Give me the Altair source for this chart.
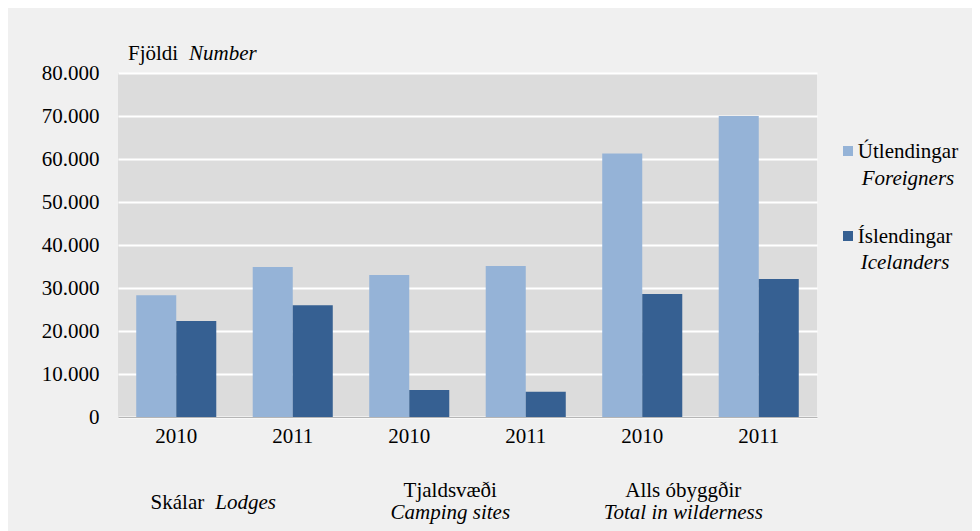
import altair as alt
import pandas as pd

# ---- data ----
groups = ["Skálar", "Skálar", "Tjaldsvæði", "Tjaldsvæði", "Alls óbyggðir", "Alls óbyggðir"]
years = ["2010", "2011", "2010", "2011", "2010", "2011"]
foreigners = [28300, 34900, 33000, 35100, 61300, 70000]
icelanders = [22300, 26000, 6300, 5900, 28600, 32100]
series = ["Útlendingar", "Íslendingar"]
series_en = ["Foreigners", "Icelanders"]
colors = ["#95b3d7", "#366092"]
y_ticks = [0, 10000, 20000, 30000, 40000, 50000, 60000, 70000, 80000]
group_is = ["Skálar", "Tjaldsvæði", "Alls óbyggðir"]
group_en = ["Lodges", "Camping sites", "Total in wilderness"]
title_is = "Fjöldi"
title_en = "Number"

cats = [f"{g} {y}" for g, y in zip(groups, years)]
rows = []
for c, f, i in zip(cats, foreigners, icelanders):
    rows.append({"cat": c, "series": series[0], "value": f})
    rows.append({"cat": c, "series": series[1], "value": i})
df = pd.DataFrame(rows)

first_cats = [cats[0], cats[2], cats[4]]
gdf = pd.DataFrame({"cat": first_cats, "is": group_is, "en": group_en})

FONT = "Liberation Serif, Times New Roman, serif"
FS = 21
W, H = 699, 344

xscale = alt.Scale(domain=cats, paddingInner=0.313, paddingOuter=0.1565)
color = alt.Color("series:N", scale=alt.Scale(domain=series, range=colors), legend=None)

bars = alt.Chart(df).mark_bar().encode(
    x=alt.X("cat:N", scale=xscale, sort=cats, title=None,
            axis=alt.Axis(labelExpr="slice(datum.value, -4)", labelAngle=0, labelFont=FONT,
                          labelFontSize=FS, labelColor="#000000", ticks=False, tickSize=0,
                          labelPadding=8, domainColor="#b5b5b5", domainWidth=1, zindex=1)),
    xOffset=alt.XOffset("series:N", sort=series,
                        scale=alt.Scale(domain=series, paddingInner=0, paddingOuter=0)),
    y=alt.Y("value:Q", scale=alt.Scale(domain=[0, 80000], nice=False), title=None,
            axis=alt.Axis(values=y_ticks,
                          labelExpr="replace(format(datum.value, ','), ',', '.')",
                          grid=True, gridColor="#ffffff", gridWidth=2, domain=False,
                          ticks=False, tickSize=0, labelPadding=19, labelFont=FONT,
                          labelFontSize=FS, labelColor="#000000")),
    color=color,
)

def txt(data, field, x, y, italic=False, align="left", dx=0, xfield=False):
    mk = alt.Chart(data).mark_text(font=FONT, fontSize=FS, color="#000000",
                                   fontStyle="italic" if italic else "normal",
                                   align=align, baseline="alphabetic", dx=dx)
    if xfield:
        return mk.encode(x=alt.X("cat:N", bandPosition=1, scale=xscale, sort=cats),
                         y=alt.value(y), text=f"{field}:N")
    return mk.encode(x=alt.value(x), y=alt.value(y), text=f"{field}:N")

# group labels
g1 = gdf.iloc[[0]]
g2 = gdf.iloc[[1, 2]]
lab_a = txt(g1, "is", 0, 436, align="right", dx=-12, xfield=True)
lab_b = txt(g1, "en", 0, 436, italic=True, align="left", dx=-1, xfield=True)
lab_c = txt(g2, "is", 0, 424, align="center", dx=1, xfield=True)
lab_d = txt(g2, "en", 0, 446, italic=True, align="center", dx=1, xfield=True)

# title
tdf = pd.DataFrame({"a": [title_is], "b": [title_en]})
t1 = txt(tdf, "a", 10, -13)
t2 = txt(tdf, "b", 71, -13, italic=True)

# legend
ldf = pd.DataFrame({"series": series, "en": series_en})
l0 = ldf.iloc[[0]]
l1 = ldf.iloc[[1]]
sq0 = alt.Chart(l0).mark_square(size=100, opacity=1).encode(x=alt.value(730), y=alt.value(78), color=color)
sq1 = alt.Chart(l1).mark_square(size=100, opacity=1).encode(x=alt.value(730), y=alt.value(163), color=color)
le0a = txt(l0, "series", 790, 85, align="center")
le0b = txt(l0, "en", 790, 112, italic=True, align="center")
le1a = txt(l1, "series", 787, 170, align="center")
le1b = txt(l1, "en", 787, 196, italic=True, align="center")

chart = alt.layer(
    bars, lab_a, lab_b, lab_c, lab_d, t1, t2, sq0, sq1, le0a, le0b, le1a, le1b
).properties(
    width=W, height=H, background="#f0f0f0",
    padding={"left": 110, "top": 65, "right": 155, "bottom": 114},
    autosize=alt.AutoSizeParams(type="none"),
).configure_view(fill="#dcdcdc", strokeWidth=0)

chart.save("out.html", embed_options={"renderer": "svg", "actions": False})
